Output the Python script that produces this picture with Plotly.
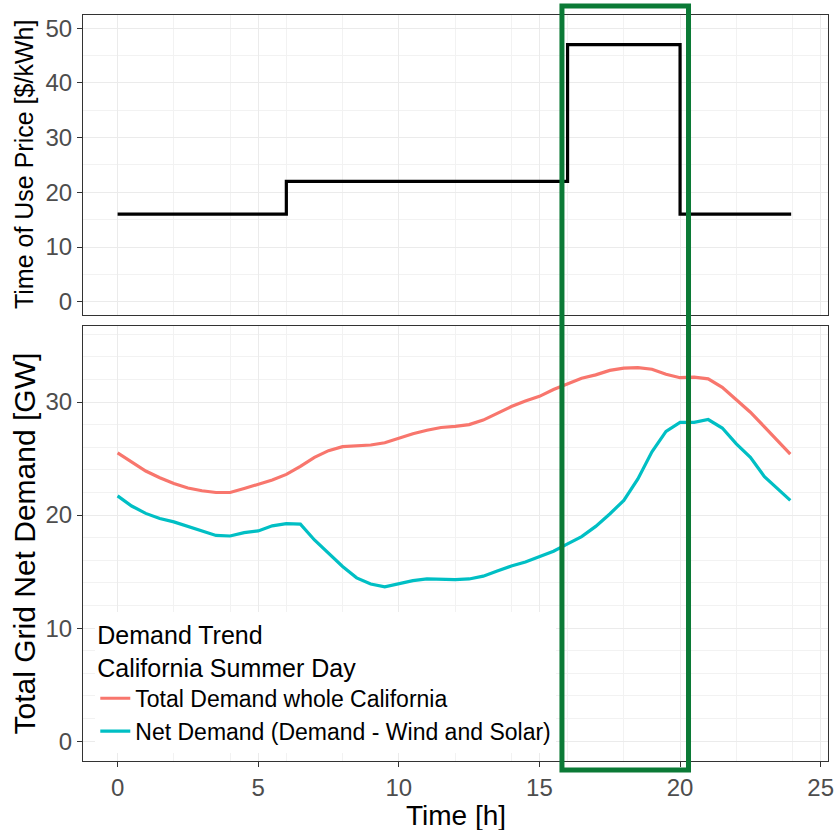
import plotly.graph_objects as go

# ---- data ----
price_hours = [0, 6, 16, 20, 23.95]
price_values = [16, 22, 47, 16, 16]

hours = [0, 0.5, 1, 1.5, 2, 2.5, 3, 3.5, 4, 4.5, 5, 5.5, 6, 6.5, 7, 7.5, 8, 8.5, 9, 9.5,
         10, 10.5, 11, 11.5, 12, 12.5, 13, 13.5, 14, 14.5, 15, 15.5, 16, 16.5, 17, 17.5,
         18, 18.5, 19, 19.5, 20, 20.5, 21, 21.5, 22, 22.5, 23, 23.5, 23.92]
total_demand = [25.5, 24.7, 23.9, 23.3, 22.8, 22.4, 22.15, 22.0, 22.0, 22.35, 22.75, 23.1,
                23.6, 24.3, 25.1, 25.7, 26.05, 26.15, 26.2, 26.4, 26.8, 27.2, 27.5, 27.75,
                27.85, 28.0, 28.4, 29.0, 29.6, 30.1, 30.5, 31.1, 31.6, 32.1, 32.4, 32.8,
                33.0, 33.05, 32.9, 32.45, 32.15, 32.2, 32.05, 31.3, 30.2, 29.1, 27.8, 26.5, 25.4]
net_demand = [21.7, 20.8, 20.15, 19.7, 19.4, 19.0, 18.55, 18.2, 18.15, 18.45, 18.6, 19.05,
              19.25, 19.2, 17.8, 16.6, 15.45, 14.45, 13.9, 13.65, 13.9, 14.2, 14.35, 14.3,
              14.3, 14.35, 14.6, 15.05, 15.5, 15.85, 16.3, 16.8, 17.45, 18.1, 19.0, 20.1,
              21.3, 23.2, 25.6, 27.4, 28.2, 28.2, 28.45, 27.7, 26.3, 25.1, 23.4, 22.3, 21.3]

series_names = ["Total Demand whole California", "Net Demand (Demand - Wind and Solar)"]
series_colors = ["#F8766D", "#00BFC4"]
legend_title = "Demand Trend<br>California Summer Day"

x_ticks = [0, 5, 10, 15, 20, 25]
price_ticks = [0, 10, 20, 30, 40, 50]
demand_ticks = [0, 10, 20, 30]

highlight = [15.8, 20.3]

FONT = "Liberation Sans"

fig = go.Figure()
fig.add_trace(go.Scatter(x=price_hours, y=price_values, mode="lines", line_shape="hv",
                         line=dict(color="black", width=3.2), showlegend=False,
                         xaxis="x", yaxis="y"))
for name, vals, col in zip(series_names, [total_demand, net_demand], series_colors):
    fig.add_trace(go.Scatter(x=hours, y=vals, mode="lines", name=name,
                             line=dict(color=col, width=3.2), xaxis="x2", yaxis="y2"))

axis_common = dict(
    showline=True, linecolor="#333333", linewidth=1, mirror=True,
    gridcolor="#EBEBEB", gridwidth=1.2, zeroline=False, automargin=False,
    minor=dict(showgrid=True, gridcolor="#F2F2F2", gridwidth=0.8, ticks=""),
)
tickfont = dict(family=FONT, size=24, color="#4D4D4D")

fig.update_layout(
    width=837, height=830,
    margin=dict(l=83, r=9, t=15, b=69),
    plot_bgcolor="white", paper_bgcolor="white",
    xaxis=dict(domain=[0, 1], range=[-1.23, 25.26], tickvals=x_ticks, showticklabels=False,
               ticks="", anchor="y", matches="x2", **axis_common),
    yaxis=dict(domain=[0.598, 1], range=[-2.4, 52.4], tickvals=price_ticks, ticks="outside",
               ticklen=5, tickcolor="#333333", tickfont=tickfont, anchor="x", **axis_common),
    xaxis2=dict(domain=[0, 1], range=[-1.23, 25.26], tickvals=x_ticks, ticks="outside",
                ticklen=5, tickcolor="#333333", tickfont=tickfont, anchor="y2", **axis_common),
    yaxis2=dict(domain=[0, 0.5835], range=[-1.75, 36.75], tickvals=demand_ticks, ticks="outside",
                ticklen=5, tickcolor="#333333", tickfont=tickfont, anchor="x2", **axis_common),
    legend=dict(
        x=0.0165, y=0.2, xanchor="left", yanchor="top",
        bgcolor="white", borderwidth=0,
        title=dict(text=legend_title, font=dict(family=FONT, size=25, color="black")),
        font=dict(family=FONT, size=23, color="black"),
        itemwidth=30, tracegroupgap=0,
    ),
    annotations=[
        dict(text="Time of Use Price [$/kWh]", xref="paper", yref="paper", x=-0.079,
             y=(0.598 + 1) / 2, textangle=-90, showarrow=False, xanchor="center",
             yanchor="middle", font=dict(family=FONT, size=25, color="black")),
        dict(text="Total Grid Net Demand [GW]", xref="paper", yref="paper", x=-0.079,
             y=0.5835 / 2, textangle=-90, showarrow=False, xanchor="center",
             yanchor="middle", font=dict(family=FONT, size=30, color="black")),
        dict(text="Time [h]", xref="paper", yref="paper", x=0.5, y=-0.0724,
             showarrow=False, xanchor="center", yanchor="middle",
             font=dict(family=FONT, size=28, color="black")),
    ],
    shapes=[
        dict(type="rect", xref="x2", yref="paper", x0=highlight[0], x1=highlight[1],
             y0=-0.012, y1=1.012, line=dict(color="#0B7A36", width=5), layer="above"),
    ],
)

fig.write_html("out.html", config={"displayModeBar": False},
               post_script="document.body.style.margin='0';")
